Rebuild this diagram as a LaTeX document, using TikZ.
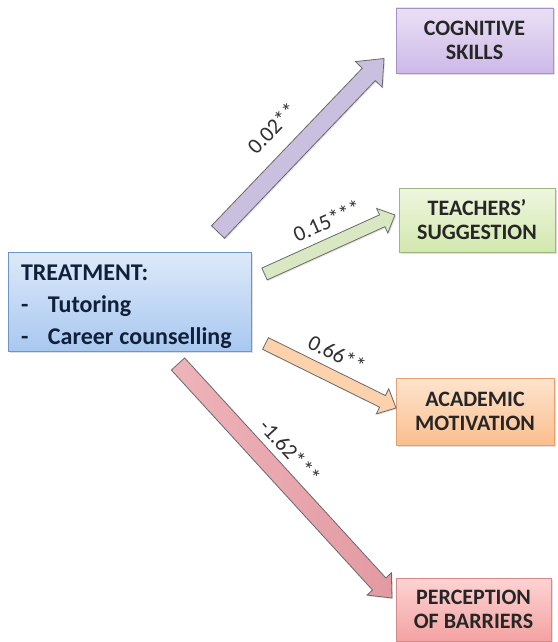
\documentclass[tikz,border=0pt]{standalone}
\usepackage{fontspec}
\setmainfont{Carlito}
\usetikzlibrary{calc,shadows}
\definecolor{txt}{HTML}{262626}
\definecolor{navy}{HTML}{10203A}
\definecolor{lbl}{HTML}{303030}
\definecolor{arrline}{HTML}{6A6A6A}
\definecolor{cogD}{HTML}{A493C8}\definecolor{cogT}{HTML}{EAE0F5}\definecolor{cogB}{HTML}{CDB9E8}
\definecolor{teaD}{HTML}{9FB67E}\definecolor{teaT}{HTML}{EEF6DF}\definecolor{teaB}{HTML}{D2E8AE}
\definecolor{acaD}{HTML}{E5A070}\definecolor{acaT}{HTML}{FDE4CE}\definecolor{acaB}{HTML}{FBBE8E}
\definecolor{perD}{HTML}{D48A8A}\definecolor{perT}{HTML}{FDD3D3}\definecolor{perB}{HTML}{F4A2A2}
\definecolor{trD}{HTML}{6E95C8}\definecolor{trT}{HTML}{DDE9F9}\definecolor{trB}{HTML}{A9C8F0}
\definecolor{a1}{HTML}{C9C0DF}
\definecolor{a2}{HTML}{D9E7C2}
\definecolor{a3}{HTML}{FCD2AC}
\definecolor{a4L}{HTML}{EFB3BA}\definecolor{a4R}{HTML}{E29AA2}
\newcommand\blockarrow[6]{%
  \coordinate (#1-hb) at ($(#2)!#5!(#1)$);
  \draw[#6] ($(#1)!#3!90:(#2)$) -- ($(#1-hb)!#3!90:(#2)$) -- ($(#1-hb)!#4!90:(#2)$) -- (#2)
    -- ($(#1-hb)!#4!-90:(#2)$) -- ($(#1-hb)!#3!-90:(#2)$) -- ($(#1)!#3!-90:(#2)$) -- cycle;
}
\tikzset{
  outbox/.style={draw=#1, line width=0.7pt, font=\fontsize{22}{24}\selectfont\bfseries, text=txt,
     align=center, inner sep=0pt, drop shadow={opacity=0.25, shadow xshift=1.5pt, shadow yshift=-1.5pt}},
  blockarr/.style={draw=arrline, line width=0.8pt, line join=miter,
     drop shadow={opacity=0.2, shadow xshift=1.2pt, shadow yshift=-1.2pt}},
  coef/.style={font=\fontsize{22}{24}\selectfont, text=lbl, inner sep=0pt}
}
\begin{document}
\begin{tikzpicture}[x=1pt,y=-1pt]
\useasboundingbox[fill=white] (0,0) rectangle (557,642);
% boxes
\node[outbox=cogD, top color=cogT, bottom color=cogB,
  minimum width=157pt, minimum height=65pt] (cog) at (474.5,40.5) {COGNITIVE\\SKILLS};
\node[outbox=teaD, top color=teaT, bottom color=teaB,
  minimum width=156pt, minimum height=64pt] (tea) at (477,220) {TEACHERS’\\SUGGESTION};
\node[outbox=acaD, top color=acaT, bottom color=acaB,
  minimum width=158pt, minimum height=67pt] (aca) at (475,411.5) {ACADEMIC\\MOTIVATION};
\node[outbox=perD, top color=perT, bottom color=perB,
  minimum width=155pt, minimum height=63pt] (per) at (473.5,609.5) {PERCEPTION\\OF BARRIERS};
\node[draw=trD, line width=0.7pt, top color=trT, bottom color=trB,
  drop shadow={opacity=0.25, shadow xshift=1.5pt, shadow yshift=-1.5pt},
  minimum width=243pt, minimum height=99pt, text width=229pt, inner xsep=7pt, inner ysep=0pt,
  align=left, font=\fontsize{24}{32}\selectfont\bfseries, text=navy] (treat) at (129.5,301.5)
  {\rule{0pt}{27pt}\hspace*{6pt}TREATMENT:\\\hspace*{6pt}\makebox[27pt][l]{-}Tutoring\\\hspace*{6pt}\makebox[27pt][l]{-}Career\hspace{-2pt} counselling};
% arrow anchors
\coordinate (t1) at (218,232);   \coordinate (h1) at (384,58.5);
\coordinate (t2) at (264.5,274); \coordinate (h2) at (395,215);
\coordinate (t3) at (265.5,343.5); \coordinate (h3) at (396,408);
\coordinate (t4) at (178,364);   \coordinate (h4) at (392,598);
\blockarrow{t1}{h1}{9pt}{18.5pt}{22pt}{blockarr, fill=a1}
\blockarrow{t2}{h2}{6.5pt}{13.5pt}{14pt}{blockarr, fill=a2}
\blockarrow{t3}{h3}{6.5pt}{14pt}{15pt}{blockarr, fill=a3}
\blockarrow{t4}{h4}{9pt}{16.5pt}{19pt}{blockarr, left color=a4L, right color=a4R}
% coefficient labels
\node[coef, rotate=46] (l1) at (272,128) {0.02**};
\node[coef, rotate=24] (l2) at (327,221) {0.15***};
\node[coef, rotate=-27] (l3) at (337,354) {0.66**};
\node[coef, rotate=-47.5] (l4) at (290,451) {-1.62***};
\end{tikzpicture}
\end{document}
